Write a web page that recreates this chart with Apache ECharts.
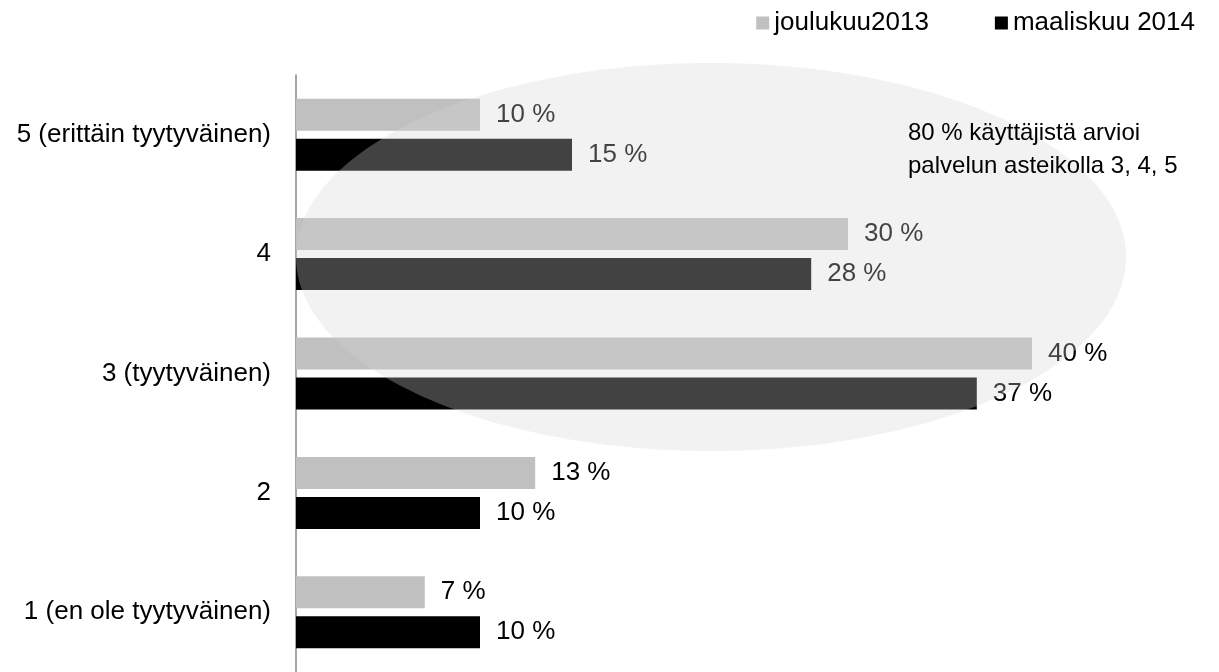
<!DOCTYPE html>
<html>
<head>
<meta charset="utf-8">
<script src="https://cdn.jsdelivr.net/npm/echarts@6/dist/echarts.min.js"></script>
<style>
html,body{margin:0;padding:0;background:#fff;}
#chart{width:1219px;height:672px;}
</style>
</head>
<body>
<div id="chart"></div>
<script>
var categories = ['1 (en ole tyytyväinen)', '2', '3 (tyytyväinen)', '4', '5 (erittäin tyytyväinen)'];
var seriesNames = ['joulukuu2013', 'maaliskuu 2014'];
var dec2013 = [7, 13, 40, 30, 10];
var mar2014 = [10, 10, 37, 28, 15];
var annotationLines = ['80 % käyttäjistä arvioi', 'palvelun asteikolla 3, 4, 5'];

var FONT = '"Liberation Sans", Arial, sans-serif';
var chart = echarts.init(document.getElementById('chart'), null, {renderer: 'canvas'});

var labelCfg = {
  show: true,
  position: 'right',
  distance: 16,
  color: '#000',
  fontFamily: FONT,
  fontSize: 26,
  formatter: function (p) { return p.value + ' %'; }
};

chart.setOption({
  animation: false,
  backgroundColor: '#fff',
  legend: {
    right: 19,
    top: 5,
    itemWidth: 13,
    itemHeight: 13,
    itemGap: 66,
    icon: 'rect',
    textStyle: {fontFamily: FONT, fontSize: 26, color: '#000'},
    data: seriesNames
  },
  grid: {left: 296, right: 3, top: 75, bottom: -2, containLabel: false},
  xAxis: {
    type: 'value', min: 0, max: 50, interval: 10,
    show: false
  },
  yAxis: {
    type: 'category',
    data: categories,
    axisLine: {show: true, lineStyle: {color: '#888', width: 1.5}},
    axisTick: {show: false},
    axisLabel: {margin: 25, color: '#000', fontFamily: FONT, fontSize: 26}
  },
  series: [
    {
      name: seriesNames[0], type: 'bar', data: dec2013,
      barWidth: 32, barGap: '25%',
      itemStyle: {color: '#c0c0c0'},
      label: labelCfg
    },
    {
      name: seriesNames[1], type: 'bar', data: mar2014,
      barWidth: 32, barGap: '25%',
      itemStyle: {color: '#000'},
      label: labelCfg
    }
  ],
  graphic: [
    {
      type: 'ellipse', z: 100,
      shape: {cx: 711, cy: 257, rx: 415, ry: 194},
      style: {fill: 'rgba(213,213,213,0.31)'},
      silent: true
    },
    {
      type: 'text', z: 101,
      left: 908, top: 117,
      style: {
        text: annotationLines.join('\n'),
        fontFamily: FONT, fontSize: 24, lineHeight: 33,
        fill: '#000'
      }
    }
  ]
});
</script>
</body>
</html>
